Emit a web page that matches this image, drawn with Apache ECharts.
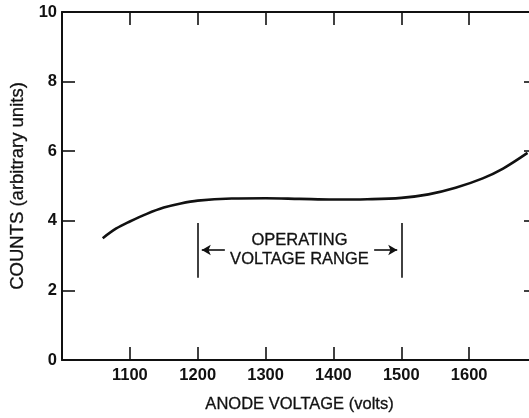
<!DOCTYPE html>
<html>
<head>
<meta charset="utf-8">
<script src="https://cdn.jsdelivr.net/npm/echarts@6/dist/echarts.min.js"></script>
<style>
  html, body { margin: 0; padding: 0; background: #fff; }
  #chart { width: 529px; height: 418px; }
</style>
</head>
<body>
<div id="chart"></div>
<script>
// Anode voltage (volts) and relative counts along the plateau curve
const voltage = [1060, 1080, 1100, 1125, 1150, 1175, 1200, 1250, 1300, 1350, 1400, 1450, 1500, 1540, 1580, 1620, 1650, 1686];
const counts  = [3.5, 3.78, 3.98, 4.2, 4.38, 4.5, 4.58, 4.64, 4.65, 4.63, 4.61, 4.62, 4.66, 4.76, 4.95, 5.22, 5.5, 5.95];

// Axis ranges and tick steps
const xRange = [1000, 1700];
const xStep = 100;
const yRange = [0, 10];
const yStep = 2;

// Plateau region marked on the plot
const operatingRange = [1200, 1500];
const operatingLabel = 'OPERATING\nVOLTAGE RANGE';

const ink = '#111';
const font = '"Liberation Sans", Arial, Helvetica, sans-serif';

const chart = echarts.init(document.getElementById('chart'), null, { renderer: 'canvas' });

const axisLine = { show: true, onZero: false, lineStyle: { color: ink, width: 2 } };
const tick = { show: true, inside: true, length: 13, lineStyle: { color: ink, width: 1.6 } };
const tickText = { color: ink, fontFamily: font, fontSize: 16.5, fontWeight: 'bold' };
const titleText = { color: ink, fontFamily: font, textBorderColor: ink, textBorderWidth: 0.3 };

const mid = (operatingRange[0] + operatingRange[1]) / 2;
const barTop = 3.94, barBottom = 2.36, arrowY = 3.16, arrowLen = 40;

chart.setOption({
  animation: false,
  backgroundColor: '#fff',
  grid: { left: 62, top: 12, right: -8, bottom: 58, outerBoundsMode: 'none', containLabel: false },
  xAxis: [
    {
      type: 'value', position: 'bottom', min: xRange[0], max: xRange[1], interval: xStep,
      axisLine, axisTick: tick, splitLine: { show: false },
      axisLabel: Object.assign({ margin: 7,
        formatter: v => (v === xRange[0] || v === xRange[1]) ? '' : String(v) }, tickText),
      name: 'ANODE VOLTAGE (volts)', nameLocation: 'middle', nameGap: 36,
      nameTextStyle: Object.assign({ fontSize: 16.5 }, titleText)
    },
    {
      type: 'value', position: 'top', min: xRange[0], max: xRange[1], interval: xStep,
      axisLine, axisTick: tick, axisLabel: { show: false }, splitLine: { show: false }
    }
  ],
  yAxis: [
    {
      type: 'value', position: 'left', min: yRange[0], max: yRange[1], interval: yStep,
      axisLine, axisTick: tick, splitLine: { show: false },
      axisLabel: Object.assign({ margin: 5 }, tickText),
      name: 'COUNTS (arbitrary units)', nameLocation: 'middle', nameGap: 33,
      nameTextStyle: Object.assign({ fontSize: 18.5 }, titleText)
    },
    {
      type: 'value', position: 'right', min: yRange[0], max: yRange[1], interval: yStep,
      axisLine, axisTick: tick, axisLabel: { show: false }, splitLine: { show: false }
    }
  ],
  series: [
    {
      type: 'line',
      data: voltage.map((v, i) => [v, counts[i]]),
      smooth: 0.35,
      showSymbol: false,
      lineStyle: { color: ink, width: 2.6 },
      markLine: {
        silent: true,
        symbol: 'none',
        label: { show: false },
        lineStyle: { color: ink, width: 1.6, type: 'solid' },
        data: [
          [{ coord: [operatingRange[0], barTop] }, { coord: [operatingRange[0], barBottom] }],
          [{ coord: [operatingRange[1], barTop] }, { coord: [operatingRange[1], barBottom] }],
          [{ coord: [operatingRange[0] + arrowLen, arrowY], symbol: 'none' },
           { coord: [operatingRange[0] + 6, arrowY], symbol: 'arrow', symbolSize: [8, 9] }],
          [{ coord: [operatingRange[1] - arrowLen, arrowY], symbol: 'none' },
           { coord: [operatingRange[1] - 6, arrowY], symbol: 'arrow', symbolSize: [8, 9] }]
        ]
      },
      markPoint: {
        silent: true,
        symbol: 'rect',
        symbolSize: 0,
        data: [{ coord: [mid, 3.17] }],
        label: Object.assign({
          show: true, position: 'inside', formatter: operatingLabel,
          fontSize: 16.5, lineHeight: 19, align: 'center'
        }, titleText)
      }
    }
  ]
});
</script>
</body>
</html>
